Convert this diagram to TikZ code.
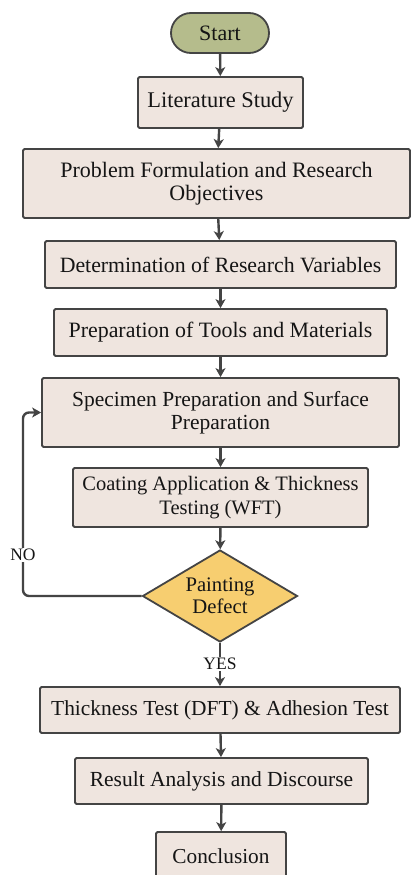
\documentclass[tikz,border=0pt]{standalone}
\usepackage{fontspec}
\setmainfont{Liberation Serif}
\usetikzlibrary{shapes.geometric,arrows.meta}
\definecolor{boxfill}{HTML}{EFE5DF}
\definecolor{startfill}{HTML}{B5BC8C}
\definecolor{decfill}{HTML}{F7CE70}
\definecolor{linec}{HTML}{444444}
\definecolor{txtc}{HTML}{151515}
\newcommand{\fsz}[1]{\fontsize{#1}{23.5}\selectfont}
\tikzset{
  stepbox/.style={draw=linec, line width=1.8pt, fill=boxfill, rounded corners=1.5pt,
    align=center, text=txtc, inner sep=0pt, font=\fsz{21.5}},
  startbox/.style={stepbox, fill=startfill, rounded corners=20pt},
  decbox/.style={diamond, draw=linec, line width=1.8pt, fill=decfill, align=center,
    text=txtc, inner sep=0pt, aspect=1.68, font=\fontsize{20.7}{22}\selectfont},
  lbl/.style={text=txtc, inner sep=1pt, font=\fontsize{17.5}{17.5}\selectfont},
  conn/.style={draw=linec, line width=2.4pt},
  arr/.style={conn, -{Stealth[length=9pt,width=10pt,inset=2.5pt]}}
}
\begin{document}
\begin{tikzpicture}[x=1pt,y=-1pt]
\fill[white] (0,0) rectangle (412,875);
\useasboundingbox (0,0) rectangle (412,875);
\begin{scope}
\clip (0,0) rectangle (412,875);
\node[startbox, font=\fsz{22}, minimum width=98pt, minimum height=40pt] (start) at (220,33) {Start};
\node[stepbox, font=\fsz{22.4}, minimum width=165pt, minimum height=51pt] (lit) at (220.5,102.5) {Literature Study};
\node[stepbox, font=\fsz{22}, minimum width=387pt, minimum height=69pt] (prob) at (216.5,183.5) {Problem Formulation and Research\\Objectives};
\node[stepbox, font=\fsz{21.8}, minimum width=351pt, minimum height=47pt] (det) at (220.5,264.5) {Determination of Research Variables};
\node[stepbox, font=\fsz{21.9}, minimum width=333pt, minimum height=47pt] (tools) at (220.5,332.5) {Preparation of Tools and Materials};
\node[stepbox, minimum width=357pt, minimum height=69pt] (spec) at (220.5,412.5) {Specimen Preparation and Surface\\Preparation};
\node[stepbox, font=\fsz{20.5}, minimum width=295pt, minimum height=59pt] (coat) at (220.5,497.5) {Coating Application \& Thickness\\Testing (WFT)};
\node[decbox, minimum width=155pt, minimum height=92pt] (dec) at (220,596) {Painting\\Defect};
\node[stepbox, font=\fsz{21.4}, minimum width=360pt, minimum height=46pt] (thick) at (220,710) {Thickness Test (DFT) \& Adhesion Test};
\node[stepbox, minimum width=293pt, minimum height=46pt] (res) at (221.5,781) {Result Analysis and Discourse};
\node[stepbox, font=\fsz{21.3}, minimum width=130pt, minimum height=56pt, text depth=0pt] (conc) at (221,860) {\raisebox{8pt}{Conclusion}};
\node[lbl] (no) at (23,555) {NO};
\node[lbl] (yes) at (220,664) {YES};

\draw[arr] (start) -- (lit);
\draw[arr] (lit) -- (prob);
\draw[arr] (prob) -- (det);
\draw[arr] (det) -- (tools);
\draw[arr] (tools) -- (spec);
\draw[arr] (spec) -- (coat);
\draw[arr] (coat) -- (dec);
\draw[conn] (dec) -- (yes);
\draw[arr] (yes) -- (thick);
\draw[arr] (thick) -- (res);
\draw[arr] (res) -- (conc);
\draw[conn, rounded corners=6pt] (dec.west) -| (no.south);
\draw[arr, rounded corners=6pt] (no.north) |- (spec.west);
\end{scope}
\end{tikzpicture}
\end{document}
